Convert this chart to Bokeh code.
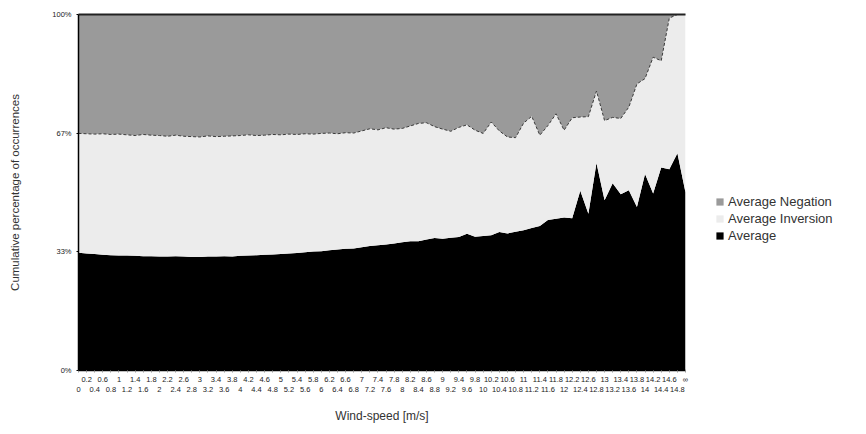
from bokeh.plotting import figure
from bokeh.layouts import row
from bokeh.models import (ColumnDataSource, FixedTicker, LinearAxis, Legend,
                          LegendItem, Range1d, PrintfTickFormatter)
from bokeh.embed import file_html
from bokeh.resources import INLINE

# Wind-speed classes [m/s]
speed_labels = [
    "0", "0.2", "0.4", "0.6", "0.8", "1", "1.2", "1.4", "1.6", "1.8",
    "2", "2.2", "2.4", "2.6", "2.8", "3", "3.2", "3.4", "3.6", "3.8",
    "4", "4.2", "4.4", "4.6", "4.8", "5", "5.2", "5.4", "5.6", "5.8",
    "6", "6.2", "6.4", "6.6", "6.8", "7", "7.2", "7.4", "7.6", "7.8",
    "8", "8.2", "8.4", "8.6", "8.8", "9", "9.2", "9.4", "9.6", "9.8",
    "10", "10.2", "10.4", "10.6", "10.8", "11", "11.2", "11.4", "11.6", "11.8",
    "12", "12.2", "12.4", "12.6", "12.8", "13", "13.2", "13.4", "13.6", "13.8",
    "14", "14.2", "14.4", "14.6", "14.8", "\u221e",
]

# Share of occurrences per class [%]
average = [
    33.1, 32.9, 32.7, 32.5, 32.4, 32.3, 32.3, 32.2, 32.1, 32.1,
    32.0, 32.0, 32.1, 32.0, 31.9, 31.9, 32.0, 32.0, 32.1, 32.0,
    32.2, 32.3, 32.4, 32.5, 32.6, 32.7, 32.9, 33.0, 33.2, 33.4,
    33.5, 33.8, 34.0, 34.2, 34.3, 34.6, 35.0, 35.2, 35.4, 35.7,
    36.0, 36.3, 36.3, 36.8, 37.2, 37.0, 37.3, 37.5, 38.4, 37.6,
    37.8, 38.0, 38.9, 38.5, 39.0, 39.4, 40.0, 40.6, 42.3, 42.6,
    43.0, 42.8, 50.5, 44.0, 58.3, 47.8, 52.6, 49.5, 50.6, 45.9,
    55.2, 49.7, 57.0, 56.5, 61.0, 50.0,
]
average_inversion = [
    33.5, 33.6, 33.7, 34.0, 33.9, 34.1, 33.9, 33.8, 34.2, 34.0,
    34.0, 33.8, 34.0, 33.8, 33.8, 33.7, 33.9, 33.7, 33.7, 33.9,
    33.8, 33.9, 33.6, 33.6, 33.7, 33.5, 33.5, 33.3, 33.3, 33.0,
    33.1, 32.9, 32.5, 32.6, 32.4, 32.7, 32.9, 32.4, 32.8, 32.1,
    32.0, 32.4, 33.1, 32.8, 31.3, 30.8, 29.9, 30.8, 30.6, 29.9,
    28.8, 31.8, 28.4, 27.1, 26.4, 30.1, 31.4, 25.5, 26.5, 29.5,
    24.5, 28.2, 20.7, 27.3, 20.2, 22.4, 18.5, 21.3, 23.4, 34.6,
    26.8, 38.3, 30.0, 42.5, 39.0, 50.0,
]
average_negation = [
    33.4, 33.5, 33.6, 33.5, 33.7, 33.6, 33.8, 34.0, 33.7, 33.9,
    34.0, 34.2, 33.9, 34.2, 34.3, 34.4, 34.1, 34.3, 34.2, 34.1,
    34.0, 33.8, 34.0, 33.9, 33.7, 33.8, 33.6, 33.7, 33.5, 33.6,
    33.4, 33.3, 33.5, 33.2, 33.3, 32.7, 32.1, 32.4, 31.8, 32.2,
    32.0, 31.3, 30.6, 30.4, 31.5, 32.2, 32.8, 31.7, 31.0, 32.5,
    33.4, 30.2, 32.7, 34.4, 34.6, 30.5, 28.6, 33.9, 31.2, 27.9,
    32.5, 29.0, 28.8, 28.7, 21.5, 29.8, 28.9, 29.2, 26.0, 19.5,
    18.0, 12.0, 13.0, 1.0, 0.0, 0.0,
]

series_names = ["Average", "Average Inversion", "Average Negation"]
series_colors = ["#000000", "#ececec", "#9a9a9a"]

idx = list(range(len(speed_labels)))
inv_top = [a + b for a, b in zip(average, average_inversion)]
src = ColumnDataSource(dict(x=idx, average=average, inversion=average_inversion,
                            negation=average_negation, inv_top=inv_top))

p = figure(width=700, height=434, output_backend="svg", toolbar_location=None,
           x_range=Range1d(0, len(idx) - 1), y_range=Range1d(0, 100),
           x_axis_type=None, y_axis_type=None,
           min_border_left=78, min_border_right=15, min_border_top=14,
           min_border_bottom=64, background_fill_color="white",
           border_fill_color="white")
p.outline_line_color = None

areas = p.varea_stack(["average", "inversion", "negation"], x="x",
                      color=series_colors, source=src)
# darker edge where negation meets inversion
p.line("x", "inv_top", source=src, line_color="#3a3a3a", line_width=1,
       line_dash="3 2")

font = "Liberation Sans"

# y axis
yaxis = LinearAxis(ticker=FixedTicker(ticks=[0, 100 / 3, 200 / 3, 100]),
                   formatter=PrintfTickFormatter(format="%.0f%%"),
                   axis_label="Cumulative percentage of occurrences")
yaxis.major_label_text_font_size = "7.5px"
yaxis.major_label_text_font = font
yaxis.major_label_text_color = "#222222"
yaxis.major_tick_out = 2
yaxis.major_tick_in = 0
yaxis.minor_tick_line_color = None
yaxis.axis_line_width = 1.5
yaxis.axis_label_text_font = font
yaxis.axis_label_text_font_style = "normal"
yaxis.axis_label_text_font_size = "11.5px"
yaxis.axis_label_text_color = "#333333"
yaxis.axis_label_standoff = 28
p.add_layout(yaxis, "left")

# x axis, first row of labels (odd classes)
odd_over = {i: (speed_labels[i] if i % 2 == 1 else "") for i in idx}
xaxis1 = LinearAxis(ticker=FixedTicker(ticks=idx), major_label_overrides=odd_over)
xaxis1.major_label_text_font_size = "7.5px"
xaxis1.major_label_text_font = font
xaxis1.major_label_text_color = "#222222"
xaxis1.major_tick_out = 2
xaxis1.major_tick_in = 0
xaxis1.major_tick_line_color = "#999999"
xaxis1.minor_tick_line_color = None
xaxis1.major_label_standoff = 2
xaxis1.axis_line_width = 1.5
p.add_layout(xaxis1, "below")

# x axis, second row of labels (even classes)
even_ticks = [i for i in idx if i % 2 == 0]
even_over = {i: speed_labels[i] for i in even_ticks}
xaxis2 = LinearAxis(ticker=FixedTicker(ticks=even_ticks),
                    major_label_overrides=even_over,
                    axis_label="Wind-speed [m/s]")
xaxis2.axis_line_color = None
xaxis2.major_tick_line_color = None
xaxis2.minor_tick_line_color = None
xaxis2.major_tick_out = 0
xaxis2.major_tick_in = 0
xaxis2.major_label_standoff = 0
xaxis2.major_label_text_font_size = "7.5px"
xaxis2.major_label_text_font = font
xaxis2.major_label_text_color = "#222222"
xaxis2.axis_label_text_font = font
xaxis2.axis_label_text_font_style = "normal"
xaxis2.axis_label_text_font_size = "12px"
xaxis2.axis_label_text_color = "#333333"
xaxis2.axis_label_standoff = 14
p.add_layout(xaxis2, "below")

# top edge of the frame
top_axis = LinearAxis(ticker=FixedTicker(ticks=[]))
top_axis.axis_line_width = 2
top_axis.axis_line_color = "#222222"
top_axis.major_label_text_font_size = "0px"
top_axis.major_tick_line_color = None
top_axis.minor_tick_line_color = None
p.add_layout(top_axis, "above")

# legend panel to the right of the chart; its swatch glyphs sit outside the view
lf = figure(width=166, height=434, output_backend="svg", toolbar_location=None,
            x_range=Range1d(0, 1), y_range=Range1d(0, 1),
            x_axis_type=None, y_axis_type=None,
            min_border_left=0, min_border_right=0, min_border_top=0,
            min_border_bottom=0, border_fill_color="white")
lf.outline_line_color = None
lf.grid.visible = False
swatches = [lf.quad(left=[5], right=[6], bottom=[5], top=[6],
                    fill_color=c, line_color=None) for c in series_colors]

legend = Legend(items=[
    LegendItem(label=series_names[2], renderers=[swatches[2]]),
    LegendItem(label=series_names[1], renderers=[swatches[1]]),
    LegendItem(label=series_names[0], renderers=[swatches[0]]),
], location=(15, 127))
legend.label_text_font = font
legend.label_text_font_size = "13px"
legend.label_text_color = "#333333"
legend.glyph_width = 9
legend.glyph_height = 9
legend.label_height = 13
legend.label_standoff = 4
legend.spacing = 2
legend.padding = 0
legend.margin = 0
legend.border_line_color = None
legend.background_fill_alpha = 0
lf.add_layout(legend)

layout = row(p, lf, spacing=0)
open("out.html", "w").write(file_html(layout, INLINE))
